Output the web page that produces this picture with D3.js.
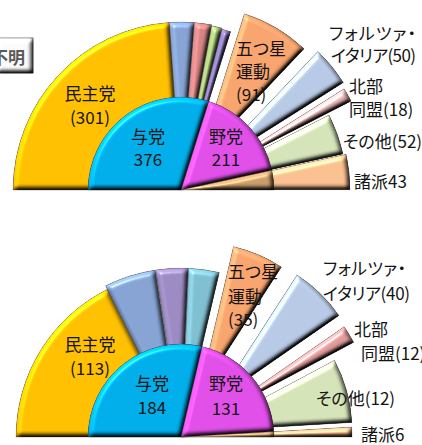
<!DOCTYPE html>
<html>
<head>
<meta charset="utf-8">
<script src="https://cdn.jsdelivr.net/npm/d3@7"></script>
<style>
  html, body { margin: 0; padding: 0; background: #fff; }
  svg text { font-family: "Noto Sans CJK JP", "Noto Sans", sans-serif; fill: #141414; font-feature-settings: "palt" 1; }
</style>
</head>
<body>
<script>
// 衆議院 (上) と 上院 (下) の議席
const chamberParties = ["民主党", "与党会派A", "与党会派B", "与党会派C", "与党会派D", "五つ星運動", "フォルツァ・イタリア", "北部同盟", "その他", "諸派"];
const chamberSeats   = [301, 30, 21, 13, 11, 91, 50, 18, 52, 43];
const chamberBlocs   = ["与党", "野党", "諸派"];
const chamberBlocSeats = [376, 211, 43];

const senateParties = ["民主党", "与党会派A", "与党会派B", "与党会派C", "五つ星運動", "フォルツァ・イタリア", "北部同盟", "その他", "諸派"];
const senateSeats   = [113, 32, 20, 19, 35, 40, 12, 44, 6];
const senateBlocs   = ["与党", "野党", "諸派"];
const senateBlocSeats = [184, 131, 6];

// 見た目
const chamberColors = ["#FFC000", "#86A3D3", "#D58483", "#A8C47A", "#8D7DBD", "#F8A46E", "#B7C9E5", "#E6B6B5", "#D5E3B9", "#FAC090"];
const senateColors  = ["#FFC000", "#86A3D3", "#9C8BC2", "#80BFD2", "#F8A46E", "#B7C9E5", "#E09C9B", "#D5E3B9", "#FAC090"];
const blocColors    = ["#00AEEA", "#E04FE8", "#C99C6C"];
const chamberRadius  = [168, 168, 168, 167, 166, 154, 162, 159, 160, 167];
const chamberExplode = [0, 0, 0, 0, 0, 34, 33, 33, 6, 2];
const senateRadius   = [165, 167, 167, 167, 153, 150, 157, 151, 171];
const senateExplode  = [0, 2, 2, 2, 45, 50, 40, 21, 0];

const W = 422, H = 445;
const svg = d3.select("body").append("svg").attr("width", W).attr("height", H);

// bevel (Excel風の立体効果)
const defs = svg.append("defs");
const f = defs.append("filter").attr("id", "bevel")
  .attr("x", "-5%").attr("y", "-5%").attr("width", "110%").attr("height", "110%")
  .attr("color-interpolation-filters", "sRGB");
f.append("feGaussianBlur").attr("in", "SourceAlpha").attr("stdDeviation", 2.5).attr("result", "blur");
f.append("feDiffuseLighting").attr("in", "blur").attr("surfaceScale", 4).attr("diffuseConstant", 1)
  .attr("lighting-color", "#fff").attr("result", "diff")
  .append("feDistantLight").attr("azimuth", 235).attr("elevation", 50);
f.append("feComposite").attr("in", "SourceGraphic").attr("in2", "diff").attr("operator", "arithmetic")
  .attr("k1", 1.3).attr("k2", 0).attr("k3", 0).attr("k4", 0).attr("result", "shaded");
f.append("feSpecularLighting").attr("in", "blur").attr("surfaceScale", 4).attr("specularConstant", 0.6)
  .attr("specularExponent", 60).attr("lighting-color", "#fff").attr("result", "spec")
  .append("feDistantLight").attr("azimuth", 235).attr("elevation", 50);
f.append("feComposite").attr("in", "spec").attr("in2", "SourceAlpha").attr("operator", "in").attr("result", "specIn");
f.append("feComposite").attr("in", "shaded").attr("in2", "specIn").attr("operator", "arithmetic")
  .attr("k1", 0).attr("k2", 1).attr("k3", 0.45).attr("k4", 0).attr("result", "lit");
f.append("feComposite").attr("in", "lit").attr("in2", "SourceAlpha").attr("operator", "in");

const pie = d3.pie().sort(null).value(d => d).startAngle(-Math.PI / 2).endAngle(Math.PI / 2);

function drawHemicycle(opt) {
  const g = svg.append("g").attr("transform", `translate(${opt.cx},${opt.cy})`);

  // 外側：政党
  const outer = pie(opt.seats);
  g.selectAll(".party").data(outer).enter().append("path")
    .attr("class", "party")
    .attr("d", (d, i) => d3.arc().innerRadius(0).outerRadius(opt.radius[i])(d))
    .attr("transform", (d, i) => {
      const a = (d.startAngle + d.endAngle) / 2, e = opt.explode[i];
      return `translate(${Math.sin(a) * e},${-Math.cos(a) * e})`;
    })
    .attr("fill", (d, i) => opt.colors[i])
    .attr("stroke", "#555").attr("stroke-opacity", 0.75).attr("stroke-width", 0.8)
    .attr("filter", "url(#bevel)");

  // 内側：与党・野党・諸派
  const inner = pie(opt.blocSeats);
  g.selectAll(".bloc").data(inner).enter().append("path")
    .attr("class", "bloc")
    .attr("d", d3.arc().innerRadius(0).outerRadius(opt.innerR))
    .attr("fill", (d, i) => blocColors[i])
    .attr("stroke", "#444").attr("stroke-opacity", 0.75).attr("stroke-width", 0.8)
    .attr("filter", "url(#bevel)");

  // ラベル
  opt.labels.forEach(l => {
    l.lines.forEach((t, j) => {
      const tx = svg.append("text")
        .attr("x", Array.isArray(l.x) ? l.x[j] : l.x)
        .attr("y", l.y[j])
        .attr("text-anchor", l.anchor || "start")
        .attr("dominant-baseline", "central")
        .style("font-size", (l.size || 17) + "px")
        .text(t);
      if (l.len) tx.attr("textLength", l.len[j]).attr("lengthAdjust", "spacing");
    });
  });
}

drawHemicycle({
  cx: 181, cy: 190, innerR: 93,
  seats: chamberSeats, colors: chamberColors, radius: chamberRadius, explode: chamberExplode,
  blocSeats: chamberBlocSeats,
  labels: [
    { lines: ["民主党", `(${chamberSeats[0]})`], x: 90, y: [92, 116], anchor: "middle" },
    { lines: [chamberBlocs[0], chamberBlocSeats[0]], x: 148, y: [135, 158], anchor: "middle" },
    { lines: [chamberBlocs[1], chamberBlocSeats[1]], x: 226, y: [135, 158], anchor: "middle" },
    { lines: ["五つ星", "運動", `(${chamberSeats[5]})`], x: 236, y: [47, 70, 93] },
    { lines: ["フォルツァ・", `イタリア(${chamberSeats[6]})`], x: [329, 331], y: [32, 54], len: [87, 85] },
    { lines: ["北部", `同盟(${chamberSeats[7]})`], x: 349, y: [85, 108] },
    { lines: [`その他(${chamberSeats[8]})`], x: 343, y: [140] },
    { lines: [`諸派${chamberSeats[9]}`], x: 354, y: [180] }
  ]
});

drawHemicycle({
  cx: 181, cy: 437, innerR: 93,
  seats: senateSeats, colors: senateColors, radius: senateRadius, explode: senateExplode,
  blocSeats: senateBlocSeats,
  labels: [
    { lines: ["民主党", `(${senateSeats[0]})`], x: 90, y: [343, 367], anchor: "middle" },
    { lines: [senateBlocs[0], senateBlocSeats[0]], x: 152, y: [382, 406], anchor: "middle" },
    { lines: [senateBlocs[1], senateBlocSeats[1]], x: 226, y: [382, 407], anchor: "middle" },
    { lines: ["五つ星", "運動", `(${senateSeats[4]})`], x: 228, y: [270, 295, 318] },
    { lines: ["フォルツァ・", `イタリア(${senateSeats[5]})`], x: 323, y: [267, 292], len: [83, 87] },
    { lines: ["北部", `同盟(${senateSeats[6]})`], x: [354, 361], y: [328, 352] },
    { lines: ["その他(12)"], x: 316, y: [397] },
    { lines: [`諸派${senateSeats[8]}`], x: 361, y: [433] }
  ]
});

// 凡例の切れ端「不明」
const box = svg.append("g");
box.append("rect").attr("x", -4).attr("y", 38).attr("width", 37).attr("height", 35)
  .attr("fill", "#fafafa").attr("stroke", "#8c8c8c").attr("stroke-width", 1.2)
  .attr("filter", "url(#bevel)");
box.append("text").attr("x", 25).attr("y", 56).attr("text-anchor", "end")
  .attr("dominant-baseline", "central")
  .style("font-size", "17px").style("font-weight", "bold").style("fill", "#595959")
  .text("不明");
</script>
</body>
</html>
